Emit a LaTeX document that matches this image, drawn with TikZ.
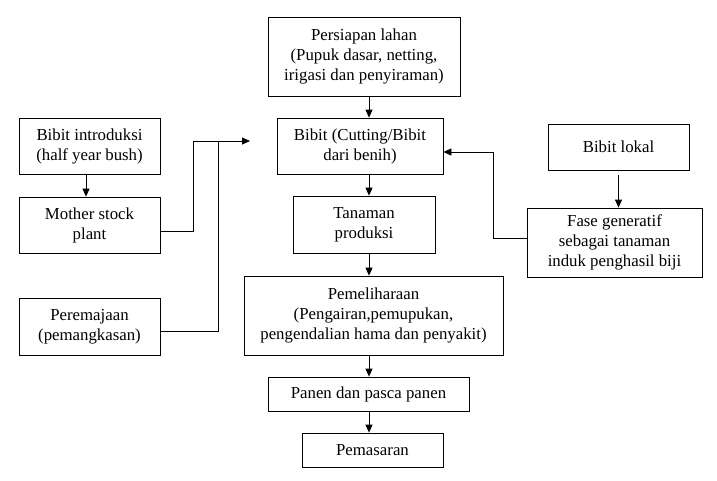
\documentclass[tikz,border=0pt]{standalone}
\usepackage{fontspec}
\setmainfont{Liberation Serif}
\usetikzlibrary{arrows.meta}
\begin{document}
\begin{tikzpicture}[x=1pt,y=-1pt,
  box/.style={draw, line width=0.8pt, inner sep=0pt, align=center, font=\rmfamily\fontsize{16.8}{20}\selectfont},
  arr/.style={line width=0.8pt, -{Triangle[length=8pt,width=7pt]}},
  ln/.style={line width=0.8pt}]
\useasboundingbox[fill=white] (0,0) rectangle (717,480);
% centre column
\node[box, minimum width=192pt, minimum height=79pt] (persiapan) at (364,56.5) {Persiapan lahan\\(Pupuk dasar, netting,\\irigasi dan penyiraman)};
\node[box, minimum width=166pt, minimum height=56pt] (bibit) at (360,146) {Bibit (Cutting/Bibit\\dari benih)};
\node[box, minimum width=142pt, minimum height=57pt] (tanaman) at (364,224.5) {Tanaman\\produksi};
\node[box, minimum width=259pt, minimum height=79pt] (pemeliharaan) at (373.5,315.5) {Pemeliharaan\\(Pengairan,pemupukan,\\pengendalian hama dan penyakit)};
\node[box, minimum width=201pt, minimum height=34pt] (panen) at (368.5,394) {Panen dan pasca panen};
\node[box, minimum width=141pt, minimum height=34pt] (pemasaran) at (372.5,450) {Pemasaran};
% left column
\node[box, minimum width=141pt, minimum height=56pt] (introduksi) at (89.5,146) {Bibit introduksi\\(half year bush)};
\node[box, minimum width=141pt, minimum height=56pt] (mother) at (89.5,225) {Mother stock\\plant};
\node[box, minimum width=141pt, minimum height=57pt] (peremajaan) at (89.5,327) {Peremajaan\\(pemangkasan)};
% right column
\node[box, minimum width=141pt, minimum height=46pt] (lokal) at (618.5,147) {Bibit lokal};
\node[box, minimum width=175pt, minimum height=69pt] (fase) at (614.5,242.5) {Fase generatif\\sebagai tanaman\\induk penghasil biji};
% helper coordinates
\coordinate (ax) at (369,0);
\coordinate (j1) at (193,141);
\coordinate (j2) at (218,141);
\coordinate (tipL) at (250,141);
\coordinate (j3) at (493,0);
% centre arrows
\draw[arr] (persiapan.south -| ax) -- (bibit.north -| ax);
\draw[arr] (bibit.south -| ax) -- (tanaman.north -| ax);
\draw[arr] (tanaman.south -| ax) -- (pemeliharaan.north -| ax);
\draw[arr] (pemeliharaan.south -| ax) -- (panen.north -| ax);
\draw[arr] (panen.south -| ax) -- (pemasaran.north -| ax);
% left connectors
\draw[arr] ([xshift=-3.5pt]introduksi.south) -- ([xshift=-3.5pt]mother.north);
\draw[ln] ([yshift=-6pt]mother.east) -| (j1) -- (j2);
\draw[arr] ([yshift=-4pt]peremajaan.east) -| (j2) -- (tipL);
% right connectors
\draw[arr] ([yshift=-5pt]lokal.south) -- (fase.north -| lokal.south);
\draw[arr] ([yshift=4.5pt]fase.west) -| ([yshift=-6pt]bibit.east -| j3) -- ([yshift=-6pt]bibit.east);
\end{tikzpicture}
\end{document}
